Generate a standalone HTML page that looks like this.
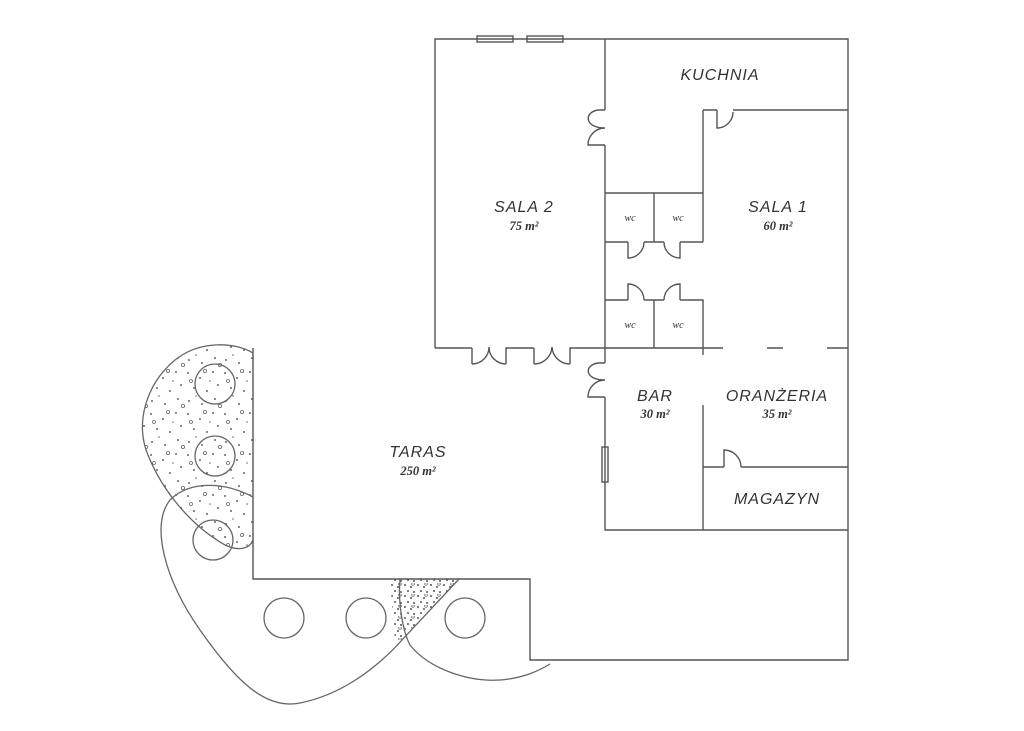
<!DOCTYPE html>
<html><head><meta charset="utf-8"><style>
html,body{margin:0;padding:0;background:#fff;}
svg{display:block}
text{font-family:"Liberation Sans",sans-serif;font-style:italic;fill:#333;}
.n{font-size:16px;letter-spacing:1px}
.a{font-size:12.5px;font-weight:bold;font-family:"Liberation Serif",serif}
.w{font-size:10px;font-family:"Liberation Serif",serif}
</style></head><body>
<svg width="1024" height="731" viewBox="0 0 1024 731" xmlns="http://www.w3.org/2000/svg">
<defs>
<pattern id="dots" width="37" height="41" patternUnits="userSpaceOnUse">
<g fill="#666"><circle cx="3" cy="4" r="1"/><circle cx="15" cy="9" r="1"/><circle cx="28" cy="3" r="1"/><circle cx="9" cy="19" r="1"/><circle cx="22" cy="22" r="1"/><circle cx="33" cy="16" r="1"/><circle cx="4" cy="32" r="1"/><circle cx="17" cy="35" r="1"/><circle cx="30" cy="30" r="1"/><circle cx="25" cy="12" r="0.8"/><circle cx="11" cy="27" r="0.8"/></g>
<g fill="none" stroke="#666" stroke-width="0.8"><circle cx="20" cy="2" r="1.6"/><circle cx="35" cy="37" r="1.6"/><circle cx="6" cy="12" r="1.5"/></g>
</pattern>
<pattern id="dense" width="13" height="11" patternUnits="userSpaceOnUse">
<g fill="#555"><circle cx="2" cy="2" r="1"/><circle cx="8" cy="4" r="1"/><circle cx="5" cy="8" r="1"/><circle cx="11" cy="9" r="1"/></g>
<g fill="none" stroke="#555" stroke-width="0.7"><circle cx="10" cy="1" r="1.3"/></g>
</pattern>
<clipPath id="c1"><path d="M253,353 C235,342 200,340 175,360 C145,385 135,425 148,455 C162,490 190,525 225,545 C240,552 250,548 253,540 Z"/></clipPath>
<clipPath id="c2"><path d="M390,579 L459,579 L402,640 L395,640 Z"/></clipPath>
</defs>
<rect x="130" y="330" width="130" height="230" fill="url(#dots)" clip-path="url(#c1)"/>
<rect x="385" y="579" width="80" height="65" fill="url(#dense)" clip-path="url(#c2)"/>
<g fill="none" stroke="#666" stroke-width="1.3">
<path d="M253,353 C235,342 200,340 175,360 C145,385 135,425 148,455 C162,490 190,525 225,545 C240,552 250,548 253,540"/>
<path d="M253,497 C225,482 190,480 170,500 C150,525 165,580 200,630 C235,680 265,710 300,703 C340,695 375,670 402,640 L459,579"/>
<path d="M400,579 C398,600 402,630 410,645 C430,670 470,682 500,680 C525,678 540,670 550,664"/>
<circle cx="215" cy="384" r="20"/><circle cx="215" cy="456" r="20"/><circle cx="213" cy="540" r="20"/>
<circle cx="284" cy="618" r="20"/><circle cx="366" cy="618" r="20"/><circle cx="465" cy="618" r="20"/>
</g>
<g fill="none" stroke="#555" stroke-width="1.4">
<path d="M253,348 L253,579 L530,579 L530,660 L848,660 L848,39 L435,39 L435,348"/>
<path d="M435,348 L472,348 M472,348 V364 M506,364 V348 L534,348 M534,348 V364 M570,364 V348 L703,348 M723,348 H703"/>
<path d="M472,364 A17,17 0 0 0 489,347 A17,17 0 0 0 506,364"/>
<path d="M534,364 A18,18 0 0 0 552,347 A18,18 0 0 0 570,364"/>
<path d="M767,348 H783 M827,348 H848"/>
<path d="M605,39 V110 M605,145 V348 M605,363 V348 M605,397 V530 H848"/>
<path d="M605,110 H598 C584,112 584,128 605,128 A17,17 0 0 0 588,145 H605"/>
<path d="M605,363 H598 C584,365 584,380 605,380 A17,17 0 0 0 588,397 H605"/>
<path d="M703,110 H717 M733,110 H848 M703,110 V242 M717,110 V128 A16,16 0 0 0 733,112"/>
<path d="M605,193 H703 M654,193 V242 M605,242 H628 M644,242 H664 M680,242 H703"/>
<path d="M628,242 V258 A16,16 0 0 0 644,242 M680,242 V258 A16,16 0 0 1 664,242"/>
<path d="M605,300 H628 M644,300 H664 M680,300 H703 V355 M654,300 V348"/>
<path d="M628,300 V284 A16,16 0 0 1 644,300 M680,300 V284 A16,16 0 0 0 664,300"/>
<path d="M703,405 V530 M703,467 H724 M741,467 H848 M724,467 V450 A17,17 0 0 1 741,467"/>
<rect x="602" y="447" width="6" height="35"/>
<rect x="477" y="36" width="36" height="6"/><rect x="527" y="36" width="36" height="6"/>
</g>
<text class="n" x="720" y="80" text-anchor="middle">KUCHNIA</text>
<text class="n" x="524" y="212" text-anchor="middle">SALA 2</text>
<text class="a" x="524" y="230" text-anchor="middle">75 m²</text>
<text class="n" x="778" y="212" text-anchor="middle">SALA 1</text>
<text class="a" x="778" y="230" text-anchor="middle">60 m²</text>
<text class="w" x="630" y="221" text-anchor="middle">wc</text>
<text class="w" x="678" y="221" text-anchor="middle">wc</text>
<text class="w" x="630" y="328" text-anchor="middle">wc</text>
<text class="w" x="678" y="328" text-anchor="middle">wc</text>
<text class="n" x="655" y="401" text-anchor="middle">BAR</text>
<text class="a" x="655" y="418" text-anchor="middle">30 m²</text>
<text class="n" x="777" y="401" text-anchor="middle">ORANŻERIA</text>
<text class="a" x="777" y="418" text-anchor="middle">35 m²</text>
<text class="n" x="777" y="504" text-anchor="middle">MAGAZYN</text>
<text class="n" x="418" y="457" text-anchor="middle">TARAS</text>
<text class="a" x="418" y="475" text-anchor="middle">250 m²</text>
</svg>
</body></html>
